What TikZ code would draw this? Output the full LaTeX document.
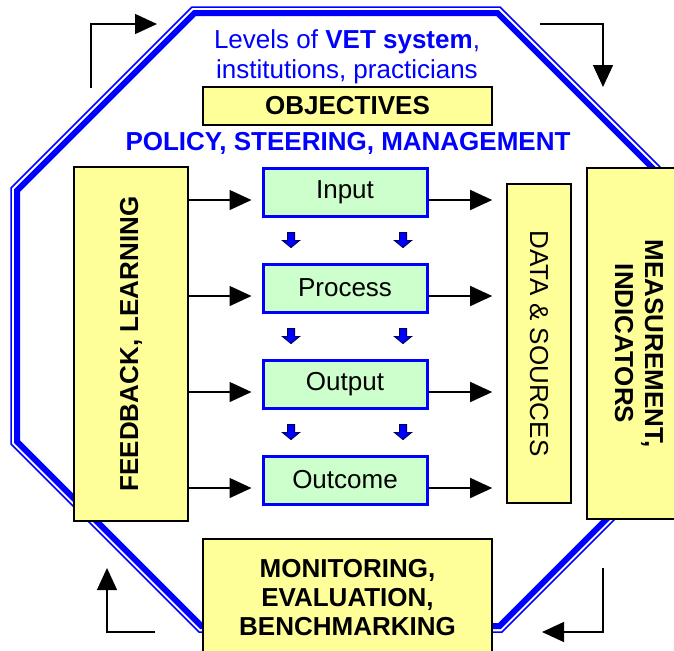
\documentclass[tikz,border=0pt]{standalone}
\usepackage{fontspec}
\setmainfont{Liberation Sans}
\usepackage{graphicx}
\usetikzlibrary{arrows.meta,calc}
\definecolor{vetblue}{HTML}{0000FF}
\definecolor{boxyellow}{HTML}{FFFF99}
\definecolor{boxgreen}{HTML}{CCFFCC}
\definecolor{arrnavy}{HTML}{000066}
\tikzset{>={Triangle[length=11pt,width=10pt]}}
\tikzset{%
    txt/.style={font=\fontsize{13}{15}\selectfont},
    bold/.style={font=\fontsize{13}{15}\selectfont\bfseries},
    ybox/.style={draw=black,line width=0.8pt,fill=boxyellow,inner sep=0pt,align=center},
    gbox/.style={draw=vetblue,line width=1.5pt,fill=boxgreen,minimum width=82pt,minimum height=24pt,inner sep=0pt,txt},
    flow/.style={->,line width=0.7pt},
    darr/.style={fill=vetblue,draw=arrnavy,line width=0.5pt}
}

\begin{document}
\begin{tikzpicture}[x=0.5pt,y=-0.5pt]
	\useasboundingbox (0,0) rectangle (674,650);
	\clip (0,0) rectangle (674,650);

	% octagon, thin outer and thick inner line
	\draw[vetblue,line width=0.75pt] (192,7) -- (500,7) -- (679,186) -- (679,455) -- (502,632) -- (199,632) -- (11,444) -- (11,188) -- cycle;
	\draw[vetblue,line width=3pt] (194.5,13) -- (497.5,13) -- (673,188.5) -- (673,452.5) -- (499.5,626) -- (201.5,626) -- (17,441.5) -- (17,190.5) -- cycle;

	% corner arrows
	\coordinate (tl1) at (91,88);
	\coordinate (tl2) at (157,24);
	\coordinate (tr1) at (540,24);
	\coordinate (tr2) at (603,87);
	\coordinate (bl1) at (155,632);
	\coordinate (bl2) at (107,568);
	\coordinate (br1) at (603,568);
	\coordinate (br2) at (542,632);
	\draw[flow] (tl1) |- (tl2);
	\draw[flow] (tr1) -| (tr2);
	\draw[flow] (bl1) -| (bl2);
	\draw[flow] (br1) |- (br2);

	\node[txt,text=vetblue,align=center] (lev) at (347,57) {Levels of \textbf{VET system},\\institutions, practicians};
	\node[ybox,bold,minimum width=144.5pt,minimum height=19pt] (obj) at (347.5,106) {OBJECTIVES};
	\node[bold,text=vetblue] (pol) at (348,143) {POLICY, STEERING, MANAGEMENT};

	\node[ybox,bold,minimum width=57pt,minimum height=177pt] (fb) at (131,344) {\rotatebox{90}{FEEDBACK, LEARNING}};
	\node[ybox,txt,minimum width=32pt,minimum height=159.5pt] (data) at (539,343.5) {\rotatebox{-90}{DATA \& SOURCES}};
	\node[ybox,bold,minimum width=49pt,minimum height=175.5pt] (meas) at (636,343.5) {\rotatebox{-90}{\begin{tabular}{@{}c@{}}MEASUREMENT,\\INDICATORS\end{tabular}}};
	\node[ybox,font=\fontsize{13}{14.5}\selectfont\bfseries,minimum width=144.5pt,minimum height=59pt] (mon) at (347.5,598) {MONITORING,\\EVALUATION,\\BENCHMARKING};

	\node[gbox] (in) at (345,192) {Input};
	\node[gbox] (pr) at (345,288) {Process};
	\node[gbox] (out) at (345,384) {Output};
	\node[gbox] (oc) at (345,480) {Outcome};

	\foreach \b in {in,pr,out,oc}{
		\coordinate (\b-l) at ([xshift=-5pt,yshift=-4pt]\b.west);
		\coordinate (\b-r) at ([yshift=-4pt]\b.east);
		\draw[flow] (fb.east |- \b-l) -- (\b-l);
		\draw[flow] (\b-r) -- ($(data.west |- \b-r)+(-14,0)$);
	}

	% small block arrows
	\foreach \a/\b in {in/pr,pr/out,out/oc}
		\foreach \dx in {-54,58}
			\filldraw[darr] ($(\a.south)!0.5!(\b.north)+(\dx,0)$) ++(-3.5,-7.5) -- ++(7,0) -- ++(0,8) -- ++(5,0) -- ++(-8.5,7) -- ++(-8.5,-7) -- ++(5,0) -- cycle;
\end{tikzpicture}
\end{document}
